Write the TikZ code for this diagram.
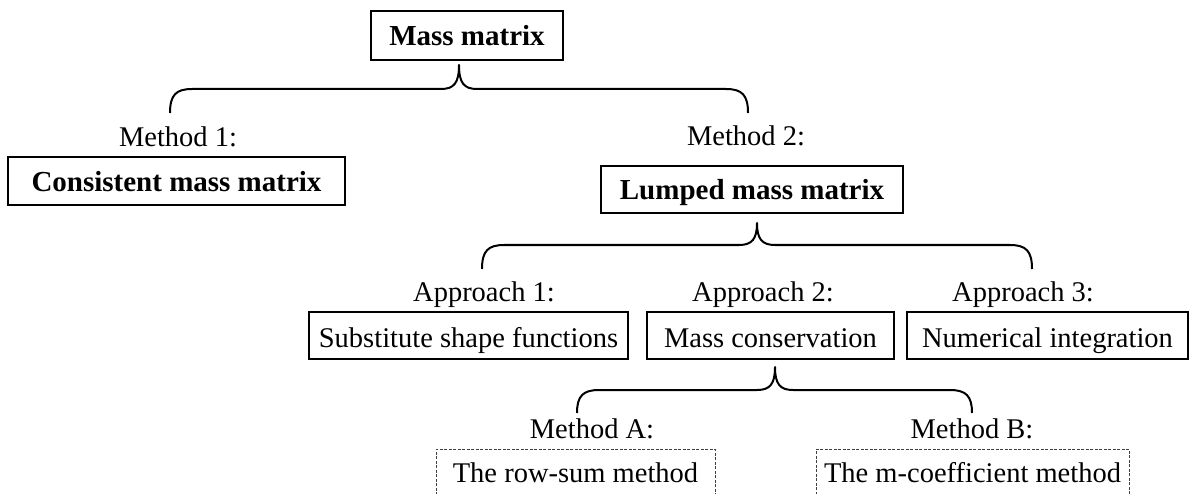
\documentclass[tikz,border=0pt]{standalone}
\usepackage{fontspec}
\setmainfont{Liberation Serif}
\begin{document}
\begin{tikzpicture}[x=1pt,y=-1pt,
  lbl/.style={anchor=base,inner sep=0pt,font=\fontsize{28.5}{34}\selectfont},
  thickbox/.style={draw,line width=2.4pt,inner sep=0pt,text height=28pt,text depth=7pt,font=\fontsize{29}{34}\selectfont\bfseries},
  thinbox/.style={draw,line width=1.2pt,inner sep=0pt,text height=30pt,text depth=7pt,font=\fontsize{28.5}{34}\selectfont},
  dashbox/.style={draw=black!75,line width=0.9pt,dash pattern=on 3pt off 1.5pt,inner sep=0pt},
  bracestyle/.style={line width=2pt,line join=round}
]
\useasboundingbox (0,0) rectangle (1190,494);
\newcommand\mybrace[6]{% L R T ytip yh ybot
  \draw[bracestyle] (#1,#6) .. controls (#1,#5+6) and (#1+6,#5) .. (#1+22,#5)
    -- (#3-18,#5) .. controls (#3-5,#5) and (#3,#5-6) .. (#3,#4)
    .. controls (#3,#5-6) and (#3+5,#5) .. (#3+18,#5)
    -- (#2-22,#5) .. controls (#2-6,#5) and (#2,#5+6) .. (#2,#6);}

% level 0
\node[thickbox,minimum width=192pt,minimum height=49pt] (mm) at (467,35.5) {Mass matrix};
% level 1
\node[lbl] (m1) at (178,147) {Method 1:};
\node[thickbox,minimum width=337pt,minimum height=48pt] (cmm) at (176.5,181) {Consistent mass matrix};
\node[lbl] (m2) at (746,146) {Method 2:};
\node[thickbox,minimum width=302pt,minimum height=47pt] (lmm) at (752,189.5) {Lumped mass matrix};
% level 2
\node[lbl] (a1) at (484,301) {Approach 1:};
\node[thinbox,minimum width=319pt,minimum height=47pt] (sub) at (468.5,335.5) {Substitute shape functions};
\node[lbl] (a2) at (763,301) {Approach 2:};
\node[thinbox,minimum width=247pt,minimum height=47pt] (mc) at (770.5,335.5) {Mass conservation};
\node[lbl] (a3) at (1023,301) {Approach 3:};
\node[thinbox,minimum width=281pt,minimum height=47pt] (ni) at (1047.5,335.5) {Numerical integration};
% level 3
\node[lbl] (mA) at (592,438) {Method A:};
\node[dashbox,minimum width=279pt,minimum height=56pt] (rs) at (575.5,477) {};
\node[lbl] (rst) at (575.5,482) {The row-sum method};
\node[lbl] (mB) at (972,438) {Method B:};
\node[dashbox,minimum width=313pt,minimum height=56pt] (mco) at (972.5,477) {};
\node[lbl] (mcot) at (972.5,482) {The m-coefficient method};

% braces
\mybrace{170}{748}{459}{65}{89}{113}
\mybrace{482}{1032}{757}{223}{245}{269}
\mybrace{577}{972}{775}{367}{390}{413}
\end{tikzpicture}
\end{document}
